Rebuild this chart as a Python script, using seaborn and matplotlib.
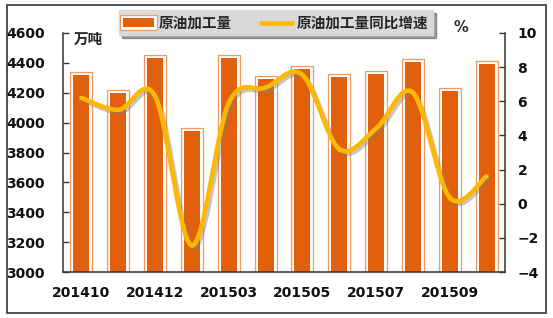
import numpy as np
import pandas as pd
import matplotlib
matplotlib.use("Agg")
import matplotlib.pyplot as plt
import matplotlib.patheffects as pe
from matplotlib.patches import Patch, Rectangle
from matplotlib.lines import Line2D
import seaborn as sns

months = ["201410", "201411", "201412", "201502", "201503", "201504",
          "201505", "201506", "201507", "201508", "201509", "201510"]
output = [4320, 4200, 4430, 3945, 4435, 4290, 4362, 4305, 4328, 4405, 4215, 4395]
growth = [6.2, 5.5, 6.3, -2.45, 5.9, 6.8, 7.55, 3.2, 4.4, 6.5, 0.35, 1.6]
tick_labels = ["201410", "201412", "201503", "201505", "201507", "201509"]

sns.set_theme(style="white")
plt.rcParams['font.family'] = ['Noto Sans CJK SC', 'DejaVu Sans']

fig = plt.figure(figsize=(5.53, 3.18), dpi=100)
ax = fig.add_axes([63/553, 46/318, (505-63)/553, (272-33)/318])

df = pd.DataFrame({"month": months, "output": output, "growth": growth})
bar_c = "#E2600C"
edge_c = "#F09A5E"
bar_fx = [pe.Stroke(linewidth=5.2, foreground=edge_c, joinstyle="miter"),
          pe.Stroke(linewidth=3.4, foreground="white", joinstyle="miter"),
          pe.Normal()]
sns.barplot(data=df, x="month", y="output", ax=ax, color=bar_c, width=0.43,
            saturation=1, linewidth=0)
for p in ax.patches:
    p.set_path_effects(bar_fx)
ax.set_ylim(3000, 4600)
ax.set_xlim(-0.5, 11.5)

ax2 = ax.twinx()
# smooth (Catmull-Rom) curve through growth points, like Excel's smoothed line
x = np.arange(len(growth), dtype=float)
y = np.array(growth, dtype=float)
px = np.concatenate([[x[0]], x, [x[-1]]])
py = np.concatenate([[y[0]], y, [y[-1]]])
xs, ys = [], []
t = np.linspace(0, 1, 30)
for i in range(1, len(px) - 2):
    p0, p1, p2, p3 = [np.array([px[j], py[j]]) for j in (i-1, i, i+1, i+2)]
    for tt in t:
        pt = 0.5 * ((2*p1) + (-p0 + p2)*tt + (2*p0 - 5*p1 + 4*p2 - p3)*tt**2
                    + (-p0 + 3*p1 - 3*p2 + p3)*tt**3)
        xs.append(pt[0]); ys.append(pt[1])
line_c = "#FFB800"
ax2.plot(xs, ys, color=line_c, lw=3.3, solid_capstyle="round",
         path_effects=[pe.SimpleLineShadow(offset=(1.5, -1.8), shadow_color="gray", alpha=0.45),
                       pe.Normal()])
ax2.set_ylim(-4, 10)
ax2.set_yticks(range(-4, 11, 2))
ax2.set_xlim(-0.5, 11.5)

for a in (ax, ax2):
    for s in a.spines.values():
        s.set_visible(False)
ax.spines["left"].set_visible(True)
ax.spines["bottom"].set_visible(True)
ax2.spines["right"].set_visible(True)
for s in (ax.spines["left"], ax.spines["bottom"], ax2.spines["right"]):
    s.set_color("#333333"); s.set_linewidth(1.1)

ax.set_yticks(range(3000, 4601, 200))
ax.set_xticks([0, 2, 4, 6, 8, 10])
ax.set_xticklabels(tick_labels)
ax.set_xlabel(""); ax.set_ylabel(""); ax2.set_ylabel("")
ax.tick_params(axis="y", left=True, direction="in", length=4, width=1, color="#333333",
               labelsize=10, pad=13)
ax.tick_params(axis="x", bottom=False, labelsize=10, pad=4)
ax2.tick_params(axis="y", right=True, direction="in", length=4, width=1, color="#333333",
                labelsize=10, pad=9)
for lab in ax.get_yticklabels() + ax.get_xticklabels() + ax2.get_yticklabels():
    lab.set_fontweight("bold")
    lab.set_fontfamily("DejaVu Sans")
    lab.set_color("#111111")

fig.text(74/553, 1 - 39/318, "万吨", fontsize=10.5, fontweight="bold", va="center", ha="left")
fig.text(461/553, 1 - 28/318, "%", fontsize=10.5, fontweight="bold", va="center", ha="center",
         family="DejaVu Sans")

handles = [Patch(facecolor=bar_c, edgecolor="none", linewidth=0),
           Line2D([0], [0], color=line_c, lw=3.3)]
leg = fig.legend(handles, ["原油加工量", "原油加工量同比增速"], ncol=2,
                 loc="center", bbox_to_anchor=(276/553, 1 - 22.5/318),
                 frameon=True, fancybox=False, shadow=True, fontsize=10.5,
                 facecolor="#D9D9D9", edgecolor="#D9D9D9", framealpha=1,
                 handlelength=2.1, handleheight=0.55, handletextpad=0.35,
                 columnspacing=2.0, borderpad=0.3, borderaxespad=0)
for tx in leg.get_texts():
    tx.set_fontweight("bold")
for hp in leg.get_patches():
    hp.set_path_effects(bar_fx)

fig.patches.append(Rectangle((7/553, 5/318), 539/553, 308/318, transform=fig.transFigure,
                             fill=False, edgecolor="#333333", linewidth=1.2))

fig.savefig("out.png", dpi=100)
